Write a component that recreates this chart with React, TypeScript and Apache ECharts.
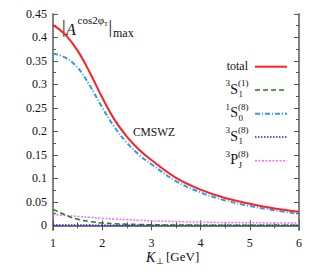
import React, { useEffect, useRef } from "react";
import * as echarts from "echarts";

const kValues = [1, 1.25, 1.5, 1.75, 2, 2.25, 2.5, 2.75, 3, 3.5, 4, 4.5, 5, 5.5, 6];
const totalValues = [0.427, 0.406, 0.372, 0.325, 0.272, 0.225, 0.189, 0.161, 0.139, 0.101, 0.076, 0.058, 0.046, 0.036, 0.029];
const s0OctetValues = [0.366, 0.357, 0.336, 0.297, 0.251, 0.209, 0.176, 0.15, 0.13, 0.094, 0.07, 0.053, 0.041, 0.032, 0.024];
const s1SingletValues = [0.034, 0.022, 0.013, 0.008, 0.005, 0.0035, 0.0025, 0.0018, 0.0012, 0.0007, 0.0003, 0.0002, 0.0001, 0.0001, 0.0];
const s1OctetValues = [0.0005, 0.0005, 0.0004, 0.0004, 0.0003, 0.0003, 0.0003, 0.0002, 0.0002, 0.0002, 0.0001, 0.0001, 0.0001, 0.0001, 0.0001];
const pjOctetValues = [0.023, 0.021, 0.019, 0.017, 0.015, 0.0135, 0.012, 0.0107, 0.0095, 0.008, 0.0068, 0.006, 0.0055, 0.005, 0.0048];

const yTickLabels = ["0", "0.05", "0.1", "0.15", "0.2", "0.25", "0.3", "0.35", "0.4", "0.45"];
const yMinorTicks = [0.025, 0.075, 0.125, 0.175, 0.225, 0.275, 0.325, 0.375, 0.425];
const xTickLabels = ["1", "2", "3", "4", "5", "6"];

const SERIF = "Liberation Serif, Times New Roman, serif";
const AXIS_COLOR = "#7a7a7a";

const pairs = (vals: number[]) => kValues.map((k, i) => [k, vals[i]]);

export default function App() {
  const ref = useRef<HTMLDivElement>(null);
  useEffect(() => {
    if (!ref.current) return;
    const chart = echarts.init(ref.current, null, { renderer: "svg" });
    const yMajor = yTickLabels.map(Number);
    const yAxisBase = (pos: "left" | "right", ticks: number[], len: number, labels: boolean) => ({
      type: "value",
      position: pos,
      min: -0.01,
      max: 0.45,
      axisLine: { show: true, lineStyle: { color: AXIS_COLOR, width: 1.5 } },
      axisTick: { show: true, inside: true, length: len, customValues: ticks, lineStyle: { color: "#555", width: 1 } },
      axisLabel: labels
        ? {
            show: true,
            customValues: yMajor,
            margin: 6,
            color: "#111",
            fontSize: 12,
            fontFamily: SERIF,
            formatter: (v: number) => String(+Number(v).toFixed(3)),
          }
        : { show: false },
      splitLine: { show: false },
    });
    const xAxisBase = (pos: "bottom" | "top", labels: boolean) => ({
      type: "value",
      position: pos,
      min: 1,
      max: 6,
      interval: 1,
      axisLine: { show: true, lineStyle: { color: AXIS_COLOR, width: pos === "bottom" ? 2 : 1.5 } },
      axisTick: { show: true, inside: true, length: 5, lineStyle: { color: "#555", width: 1 } },
      minorTick: { show: true, splitNumber: 2, length: 3, lineStyle: { color: "#555", width: 1 } },
      axisLabel: labels
        ? { show: true, margin: 7, color: "#111", fontSize: 12, fontFamily: SERIF, formatter: (v: number) => xTickLabels[Math.round(v) - 1] ?? "" }
        : { show: false },
      splitLine: { show: false },
      minorSplitLine: { show: false },
    });

    const legendRows = [
      { y: 66.7, color: "#ff2020", type: "solid", width: 2 },
      { y: 90, color: "#1f7f1f", type: [5, 3], width: 1.5 },
      { y: 113.7, color: "#2a9df4", type: [5, 2, 1, 2], width: 2 },
      { y: 137, color: "#2020e0", type: [1.5, 1.5], width: 1.5 },
      { y: 160.7, color: "#ff66ff", type: [2, 1.5], width: 1.5 },
    ];
    const legendLabels = [
      { pre: "3", main: "S", sup: "(1)", sub: "1" },
      { pre: "1", main: "S", sup: "(8)", sub: "0" },
      { pre: "3", main: "S", sup: "(8)", sub: "1" },
      { pre: "3", main: "P", sup: "(8)", sub: "J" },
    ];

    const txt = (x: number, y: number, text: string, font: string, align = "left") => ({
      type: "text",
      x,
      y,
      style: { text, font, fill: "#111", align, verticalAlign: "middle" },
    });

    const graphics: any[] = [];
    legendRows.forEach((r) => {
      graphics.push({
        type: "line",
        shape: { x1: 255, y1: r.y, x2: 287, y2: r.y },
        style: { stroke: r.color, lineWidth: r.width, lineDash: r.type === "solid" ? null : r.type },
        silent: true,
      });
    });
    graphics.push(txt(248, 66, "total", `12px ${SERIF}`, "right"));
    legendLabels.forEach((l, i) => {
      const cy = legendRows[i + 1].y - 2;
      const x0 = 238;
      graphics.push(txt(x0, cy - 5, l.sup, `9px ${SERIF}`));
      graphics.push(txt(x0 + 0.5, cy + 6, l.sub, `9px ${SERIF}`));
      graphics.push(txt(x0, cy + 1, l.main, `14px ${SERIF}`, "right"));
      graphics.push(txt(x0 - 8, cy - 5, l.pre, `9px ${SERIF}`, "right"));
    });
    // in-plot title |A^{cos2φ_T}|_max
    graphics.push(txt(62, 27, "|", `18px ${SERIF}`));
    graphics.push(txt(66, 29.5, "A", `italic 16px ${SERIF}`));
    graphics.push(txt(77.5, 20, "cos2φ", `11px ${SERIF}`));
    graphics.push(txt(104, 23.5, "T", `6.5px ${SERIF}`));
    graphics.push(txt(108.5, 27, "|", `18px ${SERIF}`));
    graphics.push(txt(113, 33, "max", `12px ${SERIF}`));
    // CMSWZ label
    graphics.push(txt(154, 132, "CMSWZ", `11.5px ${SERIF}`, "center"));
    // x-axis title K_⊥ [GeV]
    graphics.push(txt(146, 257, "K", `italic 14px ${SERIF}`));
    graphics.push(txt(155.5, 261, "⊥", `9px ${SERIF}`));
    graphics.push(txt(166, 256.5, "[GeV]", `13px ${SERIF}`));

    const mkSeries = (name: string, vals: number[], color: string, width: number, type: any) => ({
      name,
      type: "line",
      data: pairs(vals),
      smooth: 0.4,
      showSymbol: false,
      symbol: "none",
      xAxisIndex: 0,
      yAxisIndex: 0,
      lineStyle: { color, width, type },
      itemStyle: { color },
      silent: true,
    });

    chart.setOption({
      animation: false,
      backgroundColor: "#ffffff",
      grid: { left: 53, right: 21, top: 14, bottom: 50, containLabel: false },
      xAxis: [xAxisBase("bottom", true), xAxisBase("top", false)],
      yAxis: [
        yAxisBase("left", yMajor, 5, true),
        yAxisBase("left", yMinorTicks, 3, false),
        yAxisBase("right", yMajor, 5, false),
        yAxisBase("right", yMinorTicks, 3, false),
      ],
      series: [
        mkSeries("1S0(8)", s0OctetValues, "#2a9df4", 2, [5, 2, 1, 2]),
        mkSeries("3PJ(8)", pjOctetValues, "#ff66ff", 1.5, [2, 1.5]),
        mkSeries("3S1(8)", s1OctetValues, "#2020e0", 1.5, [1.5, 1.5]),
        mkSeries("3S1(1)", s1SingletValues, "#1f7f1f", 1.5, [5, 3]),
        mkSeries("total", totalValues, "#ff2020", 2, "solid"),
      ],
      graphic: graphics,
    });
    return () => chart.dispose();
  }, []);
  return <div ref={ref} style={{ position: "fixed", left: 0, top: 0, width: 320, height: 280 }} />;
}
